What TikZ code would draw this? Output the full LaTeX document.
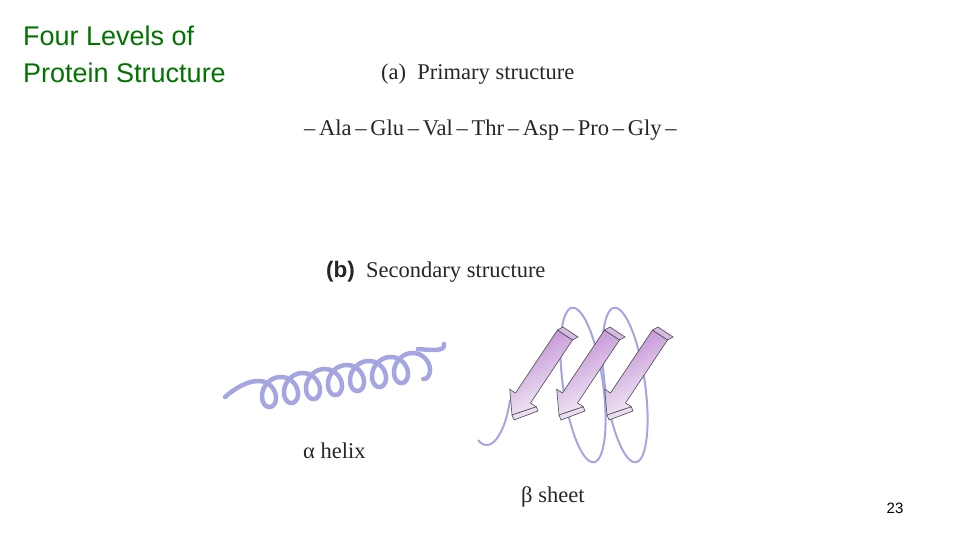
\documentclass[tikz,border=0pt]{standalone}
\usepackage{fontspec}
\setmainfont{Liberation Serif}
\newfontfamily\arialf{Liberation Sans}
\definecolor{helixc}{RGB}{165,165,225}
\definecolor{strandc}{RGB}{190,140,210}
\begin{document}
\begin{tikzpicture}[x=1pt,y=-1pt,
  lbl/.style={anchor=west,inner sep=0pt,font=\fontsize{22.5}{24}\selectfont,text=black!85},
  ribbon/.style={draw=helixc,line width=4.5pt,line cap=round},
  thin/.style={draw=helixc,line width=2pt},
  strand/.style={draw=black!70,line width=0.6pt,left color=strandc,right color=strandc!10,shading angle=30}]
\useasboundingbox (0,0) rectangle (960,540);
\node[anchor=north west,align=left,inner sep=0pt,text=green!45!black,font=\arialf\fontsize{27}{37}\selectfont] (title) at (23,26) {Four Levels of\\Protein Structure};
\node[lbl] (pa) at (381,74) {(a)\enspace Primary structure};
\node[lbl] (seq) at (304,130) {–\,Ala\,–\,Glu\,–\,Val\,–\,Thr\,–\,Asp\,–\,Pro\,–\,Gly\,–};
\node[lbl] (pb) at (326,272) {\arialf\bfseries (b)\enspace\rmfamily\mdseries Secondary structure};
\node[lbl] (ah) at (303,451) {α helix};
\node[lbl] (bs) at (521,497) {β sheet};
\node[anchor=center,inner sep=0pt,font=\arialf\fontsize{15}{17}\selectfont] (pg) at (895,508) {23};
% alpha helix
\draw[ribbon,smooth,samples=400,domain=0:7.5,variable=\t]
  plot ({258+22*\t + 12*sin(\t*360)}, {395 - 4*\t - 14*cos(\t*360)});
\draw[ribbon] (225,397) .. controls (235,388) and (248,381) .. (258,381);
\draw[ribbon] (418,349) .. controls (430,350) and (446,352) .. (444,344);
% beta sheet background loops
\draw[thin] (478,440) .. controls (490,455) and (505,435) .. (510,400);
\draw[thin,rotate around={8:(583,385)}] (583,385) ellipse [x radius=20, y radius=78];
\draw[thin,rotate around={8:(625,385)}] (625,385) ellipse [x radius=20, y radius=78];
% strands
\foreach \dx in {0,47,95}{
\begin{scope}[xshift=\dx]
\path[strand] (572.5,340) -- (530.5,403) -- (536.3,406.8) -- (512,415) -- (509.7,389.2) -- (515.5,393) -- (557.5,330) -- cycle;
\draw[black!70,line width=0.6pt,fill=strandc!60] (557.5,330) -- (563,327) -- (578,337) -- (572.5,340) -- cycle;
\draw[black!70,line width=0.6pt,fill=strandc!30] (536.3,406.8) -- (538,411) -- (514,420) -- (512,415) -- cycle;
\end{scope}}
\end{tikzpicture}
\end{document}
